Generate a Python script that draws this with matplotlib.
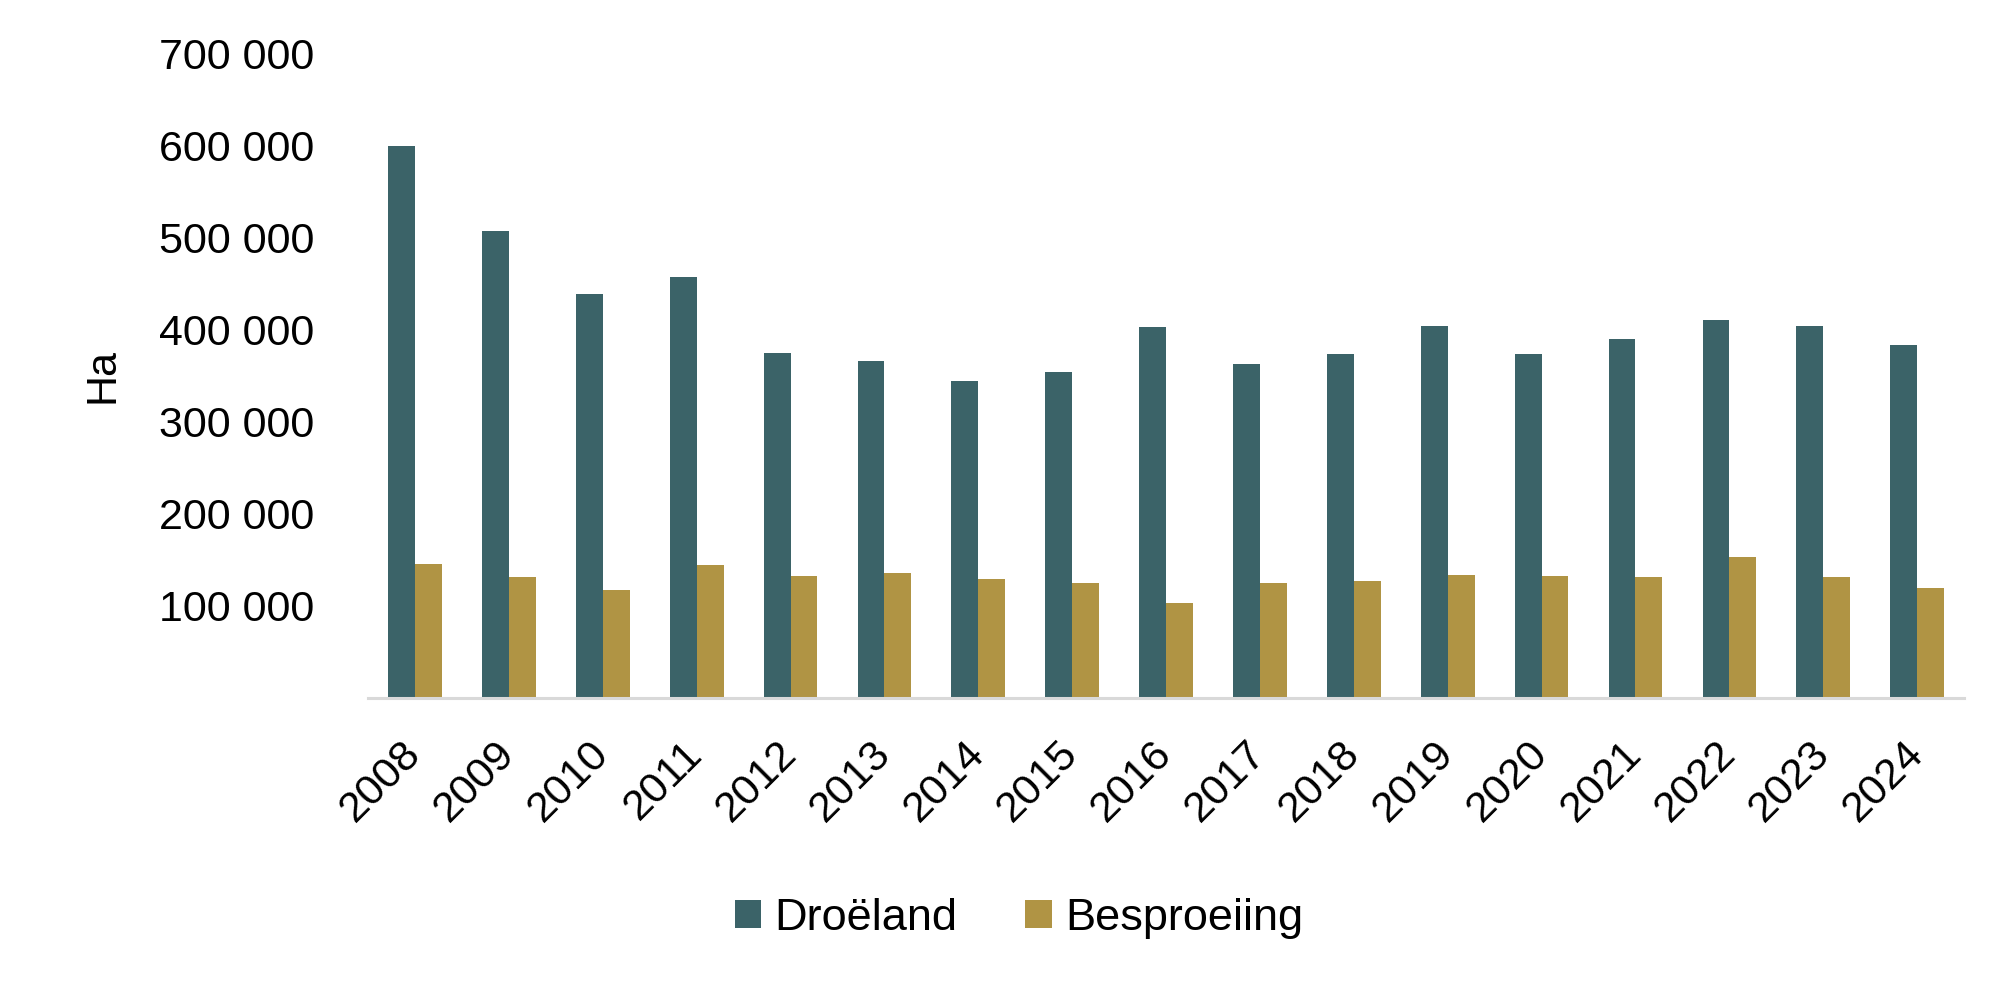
import numpy as np
import matplotlib.pyplot as plt
from matplotlib.ticker import FuncFormatter

plt.rcParams['font.family'] = ['Liberation Sans', 'DejaVu Sans']

# data (hectares)
years = [str(y) for y in range(2008, 2025)]
droeland = [600000, 508000, 439000, 457000, 375000, 366000, 345000, 354000, 403000,
            363000, 374000, 404000, 374000, 390000, 411000, 404000, 384000]
besproeiing = [146000, 131000, 117000, 145000, 133000, 136000, 129000, 125000, 103000,
               125000, 127000, 134000, 133000, 131000, 153000, 131000, 119000]

c_dry = "#3B6368"
c_irr = "#B09444"

fig = plt.figure(figsize=(20.06, 9.94), dpi=100)
ax = fig.add_axes([0.1835, 0.2978, 0.7956, 0.648])

x = np.arange(len(years))
w = 0.286
ax.bar(x - w / 2, droeland, w, color=c_dry, label="Droëland")
ax.bar(x + w / 2, besproeiing, w, color=c_irr, label="Besproeiing")

ax.set_xlim(-0.5, len(years) - 0.5)
ax.set_ylim(0, 700000)
ax.set_yticks(np.arange(100000, 700001, 100000))
ax.yaxis.set_major_formatter(FuncFormatter(lambda v, p: f"{int(v):,}".replace(",", " ")))

ax.set_xticks(x)
ax.set_xticklabels(years, rotation=45, ha="right", va="center", rotation_mode="anchor")

for s in ["top", "right", "left"]:
    ax.spines[s].set_visible(False)
ax.spines["bottom"].set_color("#D9D9D9")
ax.spines["bottom"].set_linewidth(2.2)

ax.tick_params(axis="y", length=0, pad=39, labelsize=31)
ax.tick_params(axis="x", length=0, pad=36, labelsize=31)

ax.set_ylabel("Ha", fontsize=31, labelpad=26)

fig.legend(loc="center", bbox_to_anchor=(0.508, 0.076), ncol=2, frameon=False,
           fontsize=32.5, handlelength=0.58, handleheight=0.58, columnspacing=1.5,
           handletextpad=0.3)

fig.savefig("out.png", dpi=100)
